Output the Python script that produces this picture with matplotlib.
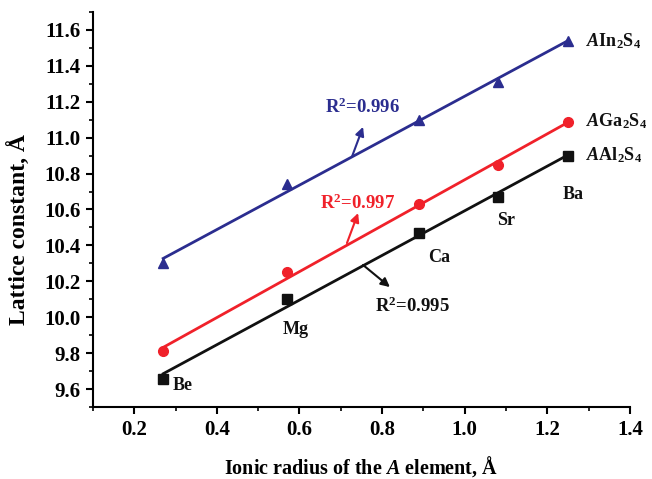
import matplotlib
matplotlib.use("Agg")
import matplotlib.pyplot as plt
import numpy as np

plt.rcParams['font.family'] = 'Liberation Serif'
plt.rcParams['font.weight'] = 'bold'
plt.rcParams['mathtext.fontset'] = 'custom'
plt.rcParams['mathtext.rm'] = 'Liberation Serif:bold'
plt.rcParams['mathtext.it'] = 'Liberation Serif:italic:bold'
plt.rcParams['mathtext.bf'] = 'Liberation Serif:bold'

# ionic radius of the A element (Be, Mg, Ca, Sr, Ba)
radius = [0.27, 0.57, 0.89, 1.08, 1.25]
elements = ['Be', 'Mg', 'Ca', 'Sr', 'Ba']
a_in = [10.30, 10.74, 11.10, 11.31, 11.54]
a_ga = [9.81, 10.25, 10.63, 10.845, 11.09]
a_al = [9.655, 10.10, 10.47, 10.67, 10.90]
r2 = ['0.996', '0.997', '0.995']

blue = '#2b2d8f'
red = '#f0212a'
black = '#111111'

fig = plt.figure(figsize=(6.52, 4.79), dpi=100)
ax = fig.add_axes([0.1426, 0.1503, 0.8234, 0.8247])

x = np.array(radius)
for y, c, m in [(a_in, blue, '^'), (a_ga, red, 'o'), (a_al, black, 's')]:
    k, b = np.polyfit(x, y, 1)
    ax.plot(x, k * x + b, color=c, lw=2, zorder=2)
    ax.plot(x, y, ls='none', marker=m, color=c, ms=7, zorder=3)

# series labels
for y, name in [(a_in, 'In'), (a_ga, 'Ga'), (a_al, 'Al')]:
    ax.text(1.293, y[-1], r'$\mathit{A}\mathrm{%s}_2\mathrm{S}_4$' % name,
            fontsize=13, va='center', color=black)

# element labels
pos = [(0.294, 9.62), (0.56, 9.93), (0.911, 10.335), (1.078, 10.54), (1.238, 10.686)]
for e, (ex, ey) in zip(elements, pos):
    ax.text(ex, ey, e, fontsize=13, va='center', color=black)

# R^2 annotations
arrow = dict(arrowstyle='-|>', lw=1.5, mutation_scale=13, shrinkA=0, shrinkB=0)
ax.annotate('', xy=(0.754, 11.06), xytext=(0.727, 10.893),
            arrowprops=dict(arrow, color=blue))
ax.text(0.662, 11.17, r'$\mathrm{R}^2$=' + r2[0], fontsize=13.5, va='center', color=blue)
ax.annotate('', xy=(0.742, 10.58), xytext=(0.715, 10.413),
            arrowprops=dict(arrow, color=red))
ax.text(0.65, 10.636, r'$\mathrm{R}^2$=' + r2[1], fontsize=13.5, va='center', color=red)
ax.annotate('', xy=(0.819, 10.168), xytext=(0.754, 10.291),
            arrowprops=dict(arrow, color=black))
ax.text(0.783, 10.06, r'$\mathrm{R}^2$=' + r2[2], fontsize=13.5, va='center', color=black)

ax.set_xlim(0.1, 1.4)
ax.set_ylim(9.5, 11.7)
ax.set_xticks(np.arange(0.2, 1.41, 0.2))
ax.set_xticks(np.arange(0.1, 1.41, 0.1), minor=True)
ax.set_yticks(np.arange(9.6, 11.61, 0.2))
ax.set_yticks(np.arange(9.5, 11.71, 0.1), minor=True)
ax.xaxis.set_major_formatter(plt.FormatStrFormatter('%.1f'))
ax.yaxis.set_major_formatter(plt.FormatStrFormatter('%.1f'))

for s in ['top', 'right']:
    ax.spines[s].set_visible(False)
for s in ['left', 'bottom']:
    ax.spines[s].set_linewidth(1.5)
ax.tick_params(which='major', length=5, width=1.5, labelsize=15, direction='out', pad=4)
ax.tick_params(which='minor', length=3, width=1.2, direction='out')

ax.set_xlabel(r'Ionic radius of the $\mathit{A}$ element, Å', fontsize=14.5, fontweight='bold')
ax.set_ylabel('Lattice constant, Å', fontsize=17, fontweight='bold')
ax.xaxis.set_label_coords(0.5, -0.12)
ax.yaxis.set_label_coords(-0.115, 0.45)

fig.savefig('out.png', dpi=100)
